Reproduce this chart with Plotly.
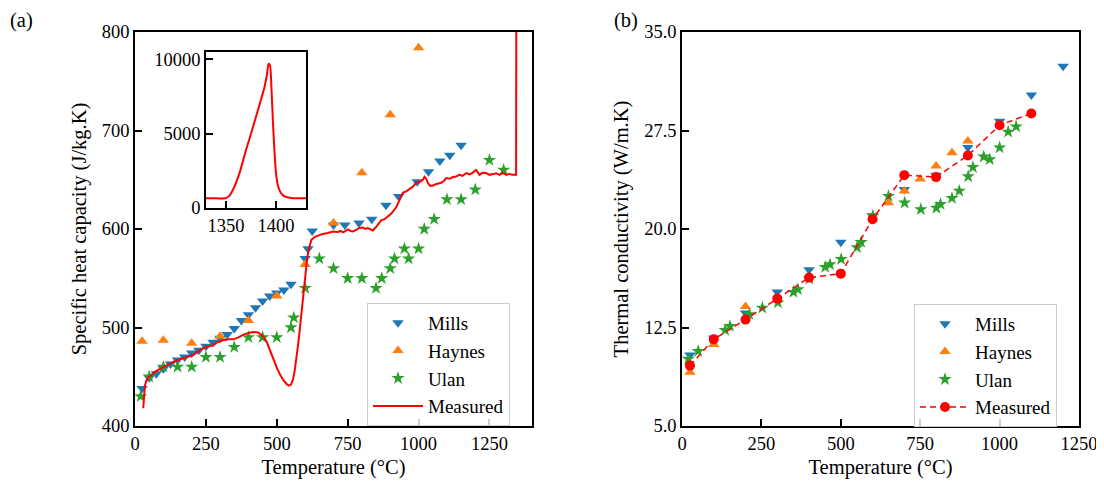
import plotly.graph_objects as go

# ---------------- Panel (a): specific heat capacity ----------------
mills_T = [25, 50, 75, 100, 125, 150, 175, 200, 225, 250, 275, 300, 325, 350, 375, 400, 425, 450, 475, 500,
           525, 550, 600, 610, 625, 700, 740, 790, 835, 885, 930, 995, 1035, 1075, 1110, 1150]
mills_cp = [438, 449, 453, 458, 463, 467, 470, 474, 477, 481, 485, 489, 493, 499, 507, 513, 520, 527, 532, 535,
            538, 544, 570, 580, 598, 604, 604, 606, 610, 624, 633, 648, 658, 669, 675, 685]

haynes_T = [25, 100, 200, 300, 400, 500, 600, 700, 800, 900, 1000]
haynes_cp = [486, 487, 484, 491, 507, 532, 564, 606, 657, 716, 784]

ulan_T = [20, 50, 100, 150, 200, 250, 300, 350, 400, 450, 500, 550, 560, 600, 650, 700, 750, 800, 850, 870,
          900, 915, 950, 965, 1000, 1020, 1055, 1100, 1150, 1200, 1250, 1300]
ulan_cp = [430, 450, 460, 460, 460, 470, 470, 480, 490, 490, 490, 500, 510, 540, 570, 560, 550, 550, 540, 550,
           560, 570, 580, 570, 580, 600, 610, 630, 630, 640, 670, 660]

meas_T = [29, 32, 35, 40, 46, 55, 70, 85, 100, 120, 135, 150, 170, 190, 205, 220, 240, 260, 276, 290, 311, 330,
          346, 365, 381, 400, 416, 434, 452, 465, 475, 490, 499, 510, 522, 535, 543, 550, 557, 563, 569, 575,
          581, 586, 592, 597, 601, 607, 613, 617, 622, 634, 650, 663, 680, 698, 715, 725, 734, 742, 751, 760,
          769, 780, 790, 804, 812, 821, 830, 839, 850, 860, 869, 880, 892, 905, 921, 935, 945, 955, 968, 980,
          992, 1005, 1015, 1021, 1027, 1033, 1040, 1050, 1060, 1070, 1080, 1090, 1097, 1110, 1121, 1130, 1144,
          1155, 1168, 1180, 1190, 1203, 1210, 1215, 1225, 1238, 1250, 1262, 1275, 1285, 1297, 1310, 1320, 1330,
          1344, 1346]
meas_cp = [418, 430, 441, 446, 449, 451, 455, 457.5, 460, 463, 465, 467, 469, 470.5, 472, 475, 479, 481, 482,
           485, 487, 488, 488, 490, 492.5, 494.5, 495.5, 495, 491, 485, 477, 466, 460, 453, 447, 442.5, 441, 442,
           447, 456, 467, 482, 497.6, 513, 531, 546, 558.5, 570, 579.5, 585, 589, 592, 594, 595, 596, 597.5, 597,
           598, 596.5, 598, 599.5, 598, 597.5, 599, 601, 601.5, 600, 601, 599.5, 598.5, 602, 606, 609, 610, 612.7,
           616, 622, 630, 637, 638, 641, 643, 647, 648, 650, 653, 651, 646.6, 644, 644, 645.5, 646, 647, 649,
           651.7, 651, 652.7, 653, 655, 654, 656.8, 655.5, 657, 660, 657, 655, 657, 656.8, 655, 655.5, 656.5, 655,
           657, 655, 656, 655, 655, 1200]

# inset: melting peak
inset_T = [1330, 1340, 1349, 1353, 1357, 1363.5, 1370, 1375, 1380, 1385, 1388.5, 1391, 1392.5, 1394, 1395.5,
           1397, 1398.5, 1400, 1402, 1404, 1407, 1410.5, 1415, 1420, 1430]
inset_cp = [650, 650, 655, 800, 1230, 2350, 3900, 5000, 6140, 7300, 8150, 9000, 9700, 9600, 8000, 5700, 3800,
            2350, 1500, 1120, 850, 740, 680, 660, 650]

# ---------------- Panel (b): thermal conductivity ----------------
k_mills_T = [25, 100, 200, 300, 400, 500, 600, 700, 800, 900, 1000, 1100, 1200]
k_mills = [10.4, 11.7, 13.6, 15.2, 16.9, 19.0, 21.0, 23.0, 24.1, 26.2, 28.2, 30.2, 32.4]

k_haynes_T = [25, 100, 200, 650, 700, 750, 800, 850, 900]
k_haynes = [9.1, 11.2, 14.1, 22.0, 22.9, 23.8, 24.8, 25.8, 26.7]

k_ulan_T = [20, 51, 136, 151, 212, 253, 302, 351, 365, 401, 451, 466, 501, 551, 564, 601, 650, 701, 752, 801,
            814, 850, 873, 901, 916, 950, 969, 1000, 1027, 1052]
k_ulan = [10.1, 10.7, 12.3, 12.6, 13.5, 14.0, 14.4, 15.2, 15.4, 16.2, 17.1, 17.3, 17.7, 18.6, 19.0, 21.0, 22.5,
          22.0, 21.5, 21.6, 21.9, 22.35, 22.9, 24.0, 24.7, 25.5, 25.3, 26.2, 27.4, 27.8]

k_meas_T = [25, 100, 200, 300, 400, 500, 600, 700, 800, 900, 1000, 1100]
k_meas = [9.6, 11.6, 13.1, 14.7, 16.3, 16.6, 20.75, 24.1, 23.95, 25.6, 27.9, 28.8]

BLUE, ORANGE, GREEN, RED = "#1f77b4", "#ff7f0e", "#2ca02c", "#ff0000"
FONT = "Liberation Serif"
FS_TICK = 18.5
FS_LEG = 19
FS_TITLE = 20.5

fig = go.Figure()

# panel a
fig.add_trace(go.Scatter(x=mills_T, y=mills_cp, mode="markers", name="Mills",
                         marker=dict(symbol="triangle-down", size=10, color=BLUE), xaxis="x", yaxis="y",
                         legend="legend"))
fig.add_trace(go.Scatter(x=haynes_T, y=haynes_cp, mode="markers", name="Haynes",
                         marker=dict(symbol="triangle-up", size=10, color=ORANGE), xaxis="x", yaxis="y",
                         legend="legend"))
fig.add_trace(go.Scatter(x=ulan_T, y=ulan_cp, mode="markers", name="Ulan",
                         marker=dict(symbol="star", size=10, color=GREEN), xaxis="x", yaxis="y",
                         legend="legend"))
fig.add_trace(go.Scatter(x=meas_T, y=meas_cp, mode="lines", name="Measured",
                         line=dict(color=RED, width=2), xaxis="x", yaxis="y", legend="legend"))

# inset
fig.add_trace(go.Scatter(x=inset_T, y=inset_cp, mode="lines", showlegend=False,
                         line=dict(color=RED, width=2, shape="spline", smoothing=0.6), xaxis="x3", yaxis="y3"))

# panel b
fig.add_trace(go.Scatter(x=k_mills_T, y=k_mills, mode="markers", name="Mills",
                         marker=dict(symbol="triangle-down", size=10, color=BLUE), xaxis="x2", yaxis="y2",
                         legend="legend2"))
fig.add_trace(go.Scatter(x=k_haynes_T, y=k_haynes, mode="markers", name="Haynes",
                         marker=dict(symbol="triangle-up", size=10, color=ORANGE), xaxis="x2", yaxis="y2",
                         legend="legend2"))
fig.add_trace(go.Scatter(x=k_ulan_T, y=k_ulan, mode="markers", name="Ulan",
                         marker=dict(symbol="star", size=10, color=GREEN), xaxis="x2", yaxis="y2",
                         legend="legend2"))
fig.add_trace(go.Scatter(x=k_meas_T, y=k_meas, mode="lines+markers", name="Measured",
                         line=dict(color=RED, width=1.5, dash="6px,4px"),
                         marker=dict(symbol="circle", size=10, color=RED), xaxis="x2", yaxis="y2",
                         legend="legend2"))

# the page adds an 8px body margin, so the figure is placed at (8, 8)
OFF = 8
W, H = 1104 - OFF, 485 - OFF


def dx(a, b):
    return [(a - OFF) / W, (b - OFF) / W]


def dy(top, bottom):
    return [1 - (bottom - OFF) / H, 1 - (top - OFF) / H]


def px(a):
    return (a - OFF) / W


def py(b):
    return 1 - (b - OFF) / H


axis_common = dict(showline=True, linecolor="black", linewidth=1.5, mirror=True, ticks="inside",
                   ticklen=7, tickwidth=1.5, tickcolor="black", showgrid=False, zeroline=False,
                   automargin=False, tickfont=dict(family=FONT, size=FS_TICK, color="black"))

title_font = dict(family=FONT, size=FS_TITLE, color="black")
legend_common = dict(xanchor="left", yanchor="top", bgcolor="rgba(255,255,255,0.8)",
                     bordercolor="#cccccc", borderwidth=1, itemwidth=50,
                     font=dict(family=FONT, size=FS_LEG, color="black"))

fig.update_layout(
    width=W, height=H,
    margin=dict(l=0, r=0, t=0, b=0),
    paper_bgcolor="white", plot_bgcolor="white",
    font=dict(family=FONT, size=FS_TICK, color="black"),
    xaxis=dict(axis_common, domain=dx(135, 532), range=[0, 1400], tickvals=[0, 250, 500, 750, 1000, 1250],
               title=dict(text="Temperature (°C)", standoff=7, font=title_font), anchor="y"),
    yaxis=dict(axis_common, domain=dy(32, 426), range=[400, 800], tickvals=[400, 500, 600, 700, 800],
               title=dict(text="Specific heat capacity (J/kg.K)", standoff=10, font=title_font), anchor="x"),
    xaxis2=dict(axis_common, domain=dx(682, 1079), range=[0, 1250], tickvals=[0, 250, 500, 750, 1000, 1250],
                title=dict(text="Temperature (°C)", standoff=7, font=title_font), anchor="y2"),
    yaxis2=dict(axis_common, domain=dy(32, 426), range=[5, 35], tickvals=[5, 12.5, 20, 27.5, 35],
                ticktext=["5.0", "12.5", "20.0", "27.5", "35.0"],
                title=dict(text="Thermal conductivity (W/m.K)", standoff=10, font=title_font), anchor="x2"),
    xaxis3=dict(axis_common, domain=dx(206, 306), range=[1330, 1430], tickvals=[1350, 1400], anchor="y3"),
    yaxis3=dict(axis_common, domain=dy(52, 208), range=[0, 10500], tickvals=[0, 5000, 10000],
                ticktext=["0", "5000", "10000"], anchor="x3"),
    legend=dict(legend_common, x=px(367), y=py(303)),
    legend2=dict(legend_common, x=px(914), y=py(304)),
    annotations=[
        dict(text="(a)", x=px(9), y=1, xref="paper", yref="paper", xanchor="left", yanchor="top",
             showarrow=False, borderpad=0, font=title_font),
        dict(text="(b)", x=px(613), y=1, xref="paper", yref="paper", xanchor="left", yanchor="top",
             showarrow=False, borderpad=0, font=title_font),
    ],
)

fig.write_html("out.html")
